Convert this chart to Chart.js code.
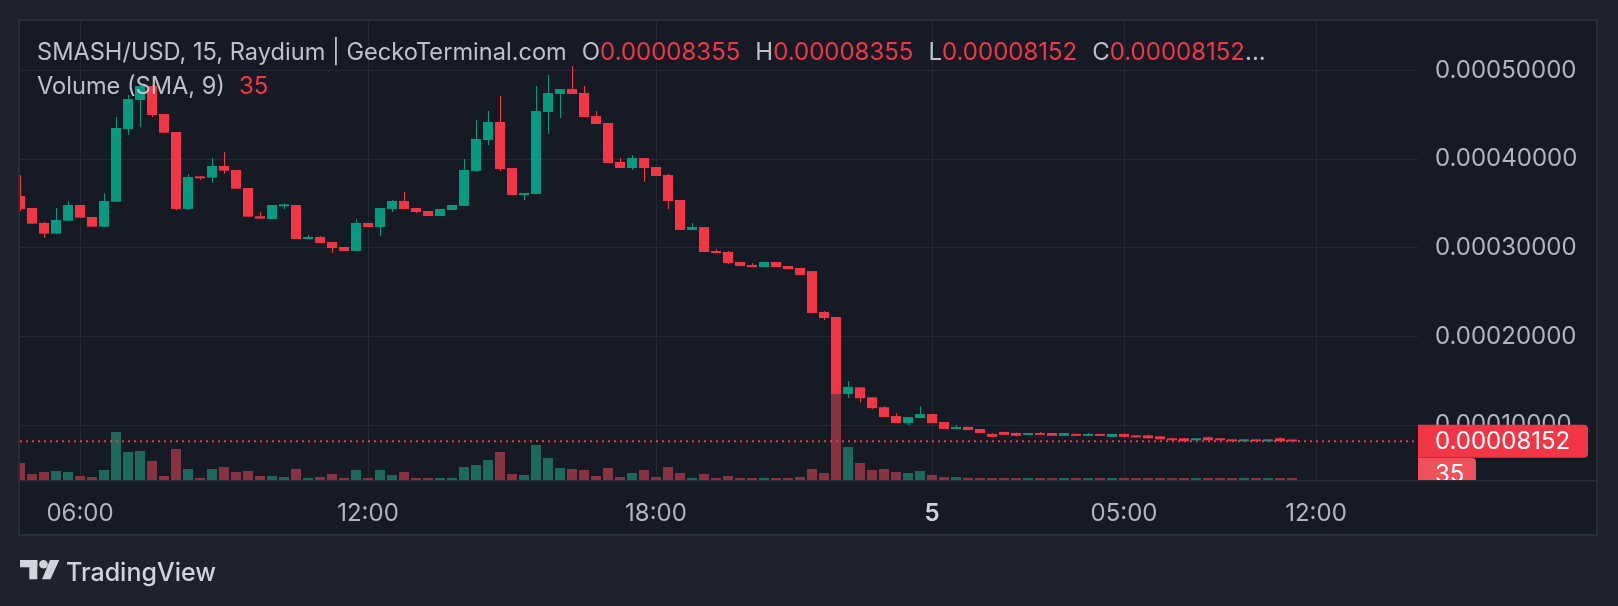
<!DOCTYPE html>
<html>
<head>
<meta charset="utf-8">
<title>SMASH/USD</title>
<script src="https://cdn.jsdelivr.net/npm/chart.js@4.4.1/dist/chart.umd.min.js"></script>
<style>
  html, body { margin: 0; padding: 0; background: #1f222c; }
  canvas { display: block; }
</style>
</head>
<body>
<canvas id="myChart" width="1618" height="606"></canvas>
<script>
// 15 min candles
const opens = [
  35.85e-5, 34.50e-5, 32.81e-5, 31.60e-5, 33.07e-5, 34.84e-5, 33.48e-5, 32.39e-5, 35.21e-5, 43.42e-5,
  46.69e-5, 48.27e-5, 45.11e-5, 43.08e-5, 34.39e-5, 38.07e-5, 37.92e-5, 39.24e-5, 38.79e-5, 36.76e-5,
  33.56e-5, 33.26e-5, 34.69e-5, 34.84e-5, 31.00e-5, 31.23e-5, 30.66e-5, 30.10e-5, 29.65e-5, 32.81e-5,
  32.35e-5, 34.39e-5, 35.29e-5, 34.50e-5, 34.16e-5, 33.59e-5, 34.27e-5, 34.73e-5, 38.68e-5, 42.17e-5,
  44.21e-5, 39.01e-5, 35.97e-5, 36.08e-5, 45.34e-5, 47.37e-5, 47.93e-5, 47.48e-5, 44.88e-5, 44.09e-5,
  39.69e-5, 39.01e-5, 40.14e-5, 39.13e-5, 38.22e-5, 35.40e-5, 32.02e-5, 32.35e-5, 29.65e-5, 29.53e-5,
  28.40e-5, 28.06e-5, 27.83e-5, 28.40e-5, 27.95e-5, 27.73e-5, 27.38e-5, 22.76e-5, 22.20e-5, 13.51e-5,
  14.25e-5, 13.13e-5, 12.01e-5, 11.01e-5, 10.22e-5, 10.78e-5, 11.23e-5, 10.34e-5, 9.55e-5, 9.78e-5,
  9.55e-5, 9.00e-5, 9.22e-5, 9.10e-5, 8.89e-5, 9.10e-5, 9.10e-5, 8.78e-5, 8.99e-5, 8.78e-5,
  8.99e-5, 8.66e-5, 8.99e-5, 8.83e-5, 8.83e-5, 8.72e-5, 8.50e-5, 8.50e-5, 8.27e-5, 8.61e-5,
  8.50e-5, 8.38e-5, 8.16e-5, 8.38e-5, 8.16e-5, 8.50e-5, 8.355e-5
];
const highs = [
  38.22e-5, 34.50e-5, 32.92e-5, 34.50e-5, 35.29e-5, 34.84e-5, 33.48e-5, 36.16e-5, 44.77e-5, 47.25e-5,
  48.50e-5, 48.40e-5, 45.11e-5, 43.08e-5, 38.33e-5, 38.07e-5, 40.14e-5, 40.82e-5, 38.79e-5, 36.76e-5,
  34.05e-5, 34.84e-5, 34.99e-5, 34.84e-5, 31.45e-5, 31.34e-5, 30.66e-5, 30.10e-5, 33.26e-5, 32.81e-5,
  34.50e-5, 35.41e-5, 36.31e-5, 34.50e-5, 34.16e-5, 34.39e-5, 34.84e-5, 40.03e-5, 44.43e-5, 45.45e-5,
  47.14e-5, 39.01e-5, 36.20e-5, 48.27e-5, 49.51e-5, 47.93e-5, 50.53e-5, 48.27e-5, 45.45e-5, 44.09e-5,
  40.14e-5, 40.48e-5, 40.14e-5, 39.13e-5, 38.33e-5, 35.40e-5, 32.81e-5, 32.35e-5, 29.87e-5, 29.65e-5,
  28.40e-5, 28.29e-5, 28.40e-5, 28.40e-5, 27.95e-5, 27.73e-5, 27.38e-5, 22.87e-5, 22.20e-5, 14.97e-5,
  14.25e-5, 13.13e-5, 12.13e-5, 11.34e-5, 10.90e-5, 12.13e-5, 11.23e-5, 10.34e-5, 10.00e-5, 9.78e-5,
  9.55e-5, 9.10e-5, 9.22e-5, 9.15e-5, 9.10e-5, 9.22e-5, 9.10e-5, 9.10e-5, 8.99e-5, 9.10e-5,
  8.99e-5, 8.99e-5, 9.05e-5, 8.83e-5, 8.90e-5, 8.72e-5, 8.55e-5, 8.50e-5, 8.50e-5, 8.66e-5,
  8.50e-5, 8.38e-5, 8.38e-5, 8.38e-5, 8.38e-5, 8.55e-5, 8.355e-5
];
const lows = [
  34.16e-5, 32.73e-5, 31.15e-5, 31.60e-5, 33.07e-5, 33.41e-5, 32.39e-5, 32.39e-5, 35.21e-5, 42.78e-5,
  43.68e-5, 44.77e-5, 43.00e-5, 34.27e-5, 34.27e-5, 37.70e-5, 37.36e-5, 38.37e-5, 36.68e-5, 33.52e-5,
  33.30e-5, 33.26e-5, 34.39e-5, 31.00e-5, 31.00e-5, 30.55e-5, 29.42e-5, 29.65e-5, 29.65e-5, 32.35e-5,
  31.33e-5, 34.05e-5, 34.39e-5, 33.93e-5, 33.59e-5, 33.59e-5, 34.27e-5, 34.73e-5, 38.56e-5, 41.61e-5,
  38.68e-5, 35.97e-5, 35.41e-5, 36.08e-5, 42.85e-5, 44.66e-5, 47.37e-5, 44.77e-5, 43.98e-5, 39.58e-5,
  39.01e-5, 38.79e-5, 37.43e-5, 38.11e-5, 34.39e-5, 32.02e-5, 32.02e-5, 29.53e-5, 29.42e-5, 28.18e-5,
  27.94e-5, 27.83e-5, 27.83e-5, 27.83e-5, 27.61e-5, 26.94e-5, 22.65e-5, 21.86e-5, 13.51e-5, 13.06e-5,
  12.57e-5, 11.79e-5, 10.90e-5, 10.22e-5, 10.00e-5, 10.78e-5, 10.22e-5, 9.55e-5, 9.55e-5, 9.44e-5,
  9.10e-5, 8.60e-5, 8.89e-5, 8.72e-5, 8.89e-5, 8.89e-5, 8.78e-5, 8.78e-5, 8.78e-5, 8.78e-5,
  8.78e-5, 8.66e-5, 8.60e-5, 8.61e-5, 8.45e-5, 8.38e-5, 8.22e-5, 8.16e-5, 8.27e-5, 8.27e-5,
  8.27e-5, 8.10e-5, 8.16e-5, 8.16e-5, 8.16e-5, 8.16e-5, 8.152e-5
];
const closes = [
  34.39e-5, 32.73e-5, 31.60e-5, 33.15e-5, 34.84e-5, 33.41e-5, 32.39e-5, 35.29e-5, 43.53e-5, 46.80e-5,
  48.27e-5, 45.00e-5, 43.00e-5, 34.39e-5, 38.00e-5, 37.85e-5, 39.24e-5, 38.71e-5, 36.68e-5, 33.52e-5,
  33.30e-5, 34.84e-5, 34.92e-5, 31.00e-5, 31.23e-5, 30.55e-5, 29.98e-5, 29.65e-5, 32.81e-5, 32.35e-5,
  34.50e-5, 35.29e-5, 34.39e-5, 34.05e-5, 33.59e-5, 34.39e-5, 34.84e-5, 38.79e-5, 42.29e-5, 44.21e-5,
  38.90e-5, 35.97e-5, 36.20e-5, 45.45e-5, 47.48e-5, 47.93e-5, 47.37e-5, 44.77e-5, 43.98e-5, 39.58e-5,
  39.01e-5, 40.14e-5, 39.01e-5, 38.11e-5, 35.29e-5, 32.02e-5, 32.35e-5, 29.53e-5, 29.42e-5, 28.29e-5,
  27.94e-5, 27.83e-5, 28.40e-5, 27.83e-5, 27.61e-5, 26.94e-5, 22.65e-5, 22.08e-5, 13.51e-5, 14.30e-5,
  13.02e-5, 11.90e-5, 10.90e-5, 10.22e-5, 10.90e-5, 11.23e-5, 10.22e-5, 9.55e-5, 9.78e-5, 9.44e-5,
  9.10e-5, 8.66e-5, 8.89e-5, 8.78e-5, 9.10e-5, 8.89e-5, 8.78e-5, 9.10e-5, 8.78e-5, 8.99e-5,
  8.78e-5, 8.99e-5, 8.66e-5, 8.61e-5, 8.50e-5, 8.38e-5, 8.27e-5, 8.16e-5, 8.50e-5, 8.27e-5,
  8.27e-5, 8.16e-5, 8.38e-5, 8.16e-5, 8.38e-5, 8.16e-5, 8.152e-5
];
const volumes = [
  298, 105, 140, 158, 140, 70, 53, 175, 840, 490,
  508, 333, 70, 543, 193, 35, 193, 228, 140, 158,
  70, 70, 53, 193, 35, 53, 105, 35, 175, 35,
  175, 88, 140, 35, 35, 35, 35, 228, 263, 350,
  490, 105, 88, 613, 385, 210, 193, 175, 70, 210,
  53, 123, 175, 53, 228, 123, 35, 105, 35, 70,
  35, 35, 35, 35, 35, 53, 193, 123, 1750, 578,
  298, 175, 193, 140, 123, 158, 88, 53, 53, 38,
  36, 35, 37, 34, 36, 35, 33, 36, 35, 34,
  37, 35, 36, 34, 35, 36, 33, 35, 34, 36,
  35, 34, 35, 36, 34, 35, 35
];

// time axis: bar index where each label sits
const timeTickIdx = [5, 29, 53, 76, 92, 108];
const timeLabels = ['06:00', '12:00', '18:00', '5', '05:00', '12:00'];
const priceTicks = [10e-5, 20e-5, 30e-5, 40e-5, 50e-5];

const GREEN = '#089981';
const RED = '#f23645';
const GREEN_VOL = '#1e695d';
const RED_VOL = '#873341';
const GRID = '#242835';
const GREY = '#b2b5be';
const LEGEND = '#bec1c9';

const last = closes.length - 1;
const isUp = i => closes[i] >= opens[i];

const volData = volumes.map((v, i) => ({ x: i, y: v }));
const wickData = highs.map((h, i) => ({ x: i, y: [lows[i], h] }));
const bodyData = opens.map((o, i) => ({ x: i, y: [o, closes[i]] }));

const bgPlugin = {
    id: 'bg',
    beforeDraw(chart) {
        const c = chart.ctx;
        c.save();
        c.fillStyle = '#1f222c';
        c.fillRect(0, 0, chart.width, chart.height);
        c.fillStyle = '#161a25';
        c.fillRect(20, 21, 1577, 514);
        c.strokeStyle = '#2a2e39';
        c.lineWidth = 2;
        c.strokeRect(19, 20, 1578, 515);
        c.fillStyle = '#2a2e39';
        c.fillRect(20, 480, 1577, 1.5);
        c.restore();
    }
};

function drawRuns(c, x, y, runs) {
    runs.forEach(([text, color, gap, font]) => {
        if (font) c.font = font;
        c.fillStyle = color;
        c.fillText(text, x, y);
        x += c.measureText(text).width + (gap || 0);
    });
}

const overlayPlugin = {
    id: 'overlay',
    afterDatasetsDraw(chart) {
        const c = chart.ctx;
        const area = chart.chartArea;
        const yLast = chart.scales.y.getPixelForValue(closes[last]);
        c.save();
        c.strokeStyle = RED;
        c.lineWidth = 2;
        c.setLineDash([2, 4]);
        c.beginPath();
        c.moveTo(area.left, yLast);
        c.lineTo(area.right, yLast);
        c.stroke();
        c.restore();
    },
    afterDraw(chart) {
        const c = chart.ctx;
        const area = chart.chartArea;
        const yLast = chart.scales.y.getPixelForValue(closes[last]);
        const yVol = chart.scales.yv.getPixelForValue(volumes[last]) - 3.5;

        c.save();
        c.font = '24px Inter';
        c.textBaseline = 'middle';

        // volume value label (cut by the pane bottom)
        c.save();
        c.beginPath();
        c.rect(area.right, area.top, 179, area.bottom - area.top);
        c.clip();
        c.fillStyle = '#f04f5c';
        c.beginPath();
        c.roundRect(area.right, yVol - 16.5, 58, 33, [0, 4, 4, 0]);
        c.fill();
        c.fillStyle = '#ffffff';
        c.fillText(String(volumes[last]), area.right + 17, yVol);
        c.restore();

        // last price label
        c.fillStyle = RED;
        c.beginPath();
        c.roundRect(area.right, yLast - 16.5, 170, 33, [0, 4, 4, 0]);
        c.fill();
        c.fillStyle = '#ffffff';
        c.fillText(closes[last].toFixed(8), area.right + 17, yLast);

        // legend
        c.textBaseline = 'alphabetic';
        drawRuns(c, 37, 60, [
            ['SMASH/USD, 15, Raydium | GeckoTerminal.com', LEGEND, 15, '23.6px Inter'],
            ['O', LEGEND, 0, '24px Inter'], [opens[last].toFixed(8), RED, 15],
            ['H', LEGEND, 0], [highs[last].toFixed(8), RED, 15],
            ['L', LEGEND, 0], [lows[last].toFixed(8), RED, 15],
            ['C', LEGEND, 0], [closes[last].toFixed(8), RED, 0],
            ['...', LEGEND, 0]
        ]);
        drawRuns(c, 37, 93.5, [
            ['Volume (SMA, 9)', LEGEND, 14, '23.6px Inter'],
            [String(volumes[last]), RED, 0, '24px Inter']
        ]);

        // TradingView footer
        c.fillStyle = '#d1d4dc';
        c.fillRect(20, 560, 17.3, 7.3);
        c.fillRect(29.3, 560, 8, 19.3);
        c.beginPath();
        c.arc(43.5, 564.3, 4.3, 0, Math.PI * 2);
        c.fill();
        c.beginPath();
        c.moveTo(50, 560);
        c.lineTo(59.3, 560);
        c.lineTo(50.5, 579.3);
        c.lineTo(42, 579.3);
        c.closePath();
        c.fill();
        c.font = '500 25px Inter';
        c.fillText('TradingView', 66, 580.5);
        c.restore();
    }
};

Chart.defaults.font.family = 'Inter';

new Chart(document.getElementById('myChart'), {
    type: 'bar',
    data: {
        datasets: [
            {
                data: volData,
                xAxisID: 'x',
                yAxisID: 'yv',
                backgroundColor: ctx => isUp(ctx.dataIndex) ? GREEN_VOL : RED_VOL,
                barThickness: 10,
                grouped: false,
                inflateAmount: 0,
                borderWidth: 0,
                clip: 0,
                order: 3
            },
            {
                data: wickData,
                xAxisID: 'xw',
                yAxisID: 'y',
                backgroundColor: ctx => isUp(ctx.dataIndex) ? GREEN : RED,
                barThickness: 1,
                grouped: false,
                inflateAmount: 0,
                borderWidth: 0,
                clip: 0,
                order: 2
            },
            {
                data: bodyData,
                xAxisID: 'x',
                yAxisID: 'y',
                backgroundColor: ctx => isUp(ctx.dataIndex) ? GREEN : RED,
                barThickness: 10,
                grouped: false,
                inflateAmount: 0,
                borderWidth: 0,
                clip: 0,
                order: 1
            }
        ]
    },
    options: {
        responsive: false,
        animation: false,
        devicePixelRatio: 1,
        events: [],
        layout: { padding: { left: 20, top: 21, right: 21, bottom: 71 } },
        plugins: {
            legend: { display: false },
            tooltip: { enabled: false }
        },
        scales: {
            x: {
                type: 'linear',
                min: 0,
                max: 116.5,
                offset: false,
                bounds: 'data',
                afterBuildTicks: s => { s.ticks = timeTickIdx.map(v => ({ value: v })); },
                afterFit: s => {
                    s.height = 55;
                    s.paddingLeft = 0;
                    s.paddingRight = 0;
                },
                ticks: {
                    autoSkip: false,
                    maxRotation: 0,
                    padding: 19,
                    callback: (v, i) => timeLabels[i],
                    color: ctx => timeLabels[ctx.index] === '5' ? '#d1d4dc' : GREY,
                    font: ctx => ({ family: 'Inter', size: 24, weight: timeLabels[ctx.index] === '5' ? '600' : '400' })
                },
                grid: { color: GRID, drawTicks: false, offset: false },
                border: { display: false }
            },
            xw: {
                type: 'linear',
                display: false,
                min: -0.5 / 12,
                max: 116.5 - 0.5 / 12,
                offset: false,
                bounds: 'data'
            },
            y: {
                position: 'right',
                min: 3.791e-5,
                max: 55.611e-5,
                beginAtZero: false,
                bounds: 'data',
                afterBuildTicks: s => { s.ticks = priceTicks.map(v => ({ value: v })); },
                afterFit: s => {
                    s.width = 179;
                    s.paddingTop = 0;
                    s.paddingBottom = 0;
                },
                ticks: {
                    padding: 17,
                    color: GREY,
                    font: { family: 'Inter', size: 24 },
                    callback: v => v.toFixed(8)
                },
                grid: { color: GRID, drawTicks: false },
                border: { display: false }
            },
            yv: {
                display: false,
                min: 0,
                max: 8030,
                beginAtZero: true
            }
        }
    },
    plugins: [bgPlugin, overlayPlugin]
});
</script>
</body>
</html>
